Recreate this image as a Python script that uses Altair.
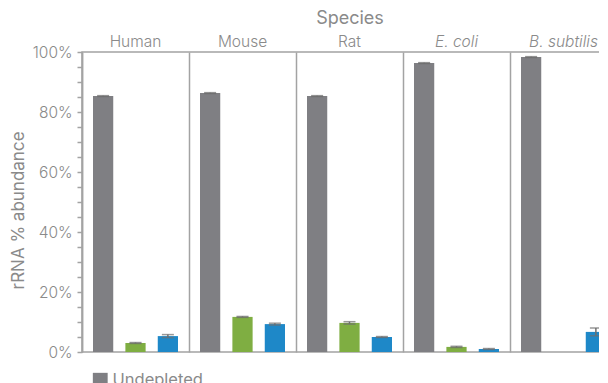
import altair as alt
import pandas as pd

species = ["Human", "Mouse", "Rat", "E. coli", "B. subtilis"]
conditions = ["Undepleted", "Pan-species depletion", "Species-specific depletion"]
colors = ["#7f7f83", "#7fae42", "#1e88c8"]

undepleted = [85.3, 86.3, 85.3, 96.3, 98.3]
undepleted_err = [0.15, 0.15, 0.15, 0.15, 0.15]
pan = [3.0, 11.7, 9.7, 1.7, 0.0]
pan_err = [0.15, 0.15, 0.4, 0.2, 0.0]
specific = [5.3, 9.3, 5.0, 1.0, 6.7]
specific_err = [0.5, 0.3, 0.15, 0.15, 1.3]

rows = []
for vals, errs, cond in [(undepleted, undepleted_err, conditions[0]),
                         (pan, pan_err, conditions[1]),
                         (specific, specific_err, conditions[2])]:
    for s, v, e in zip(species, vals, errs):
        rows.append({"species": s, "condition": cond, "value": v, "err": e,
                     "lo": v - e, "hi": v + e})
df = pd.DataFrame(rows)
df_err = df[df["value"] > 0]

FONT = "Inter"
TXT = "#8a8a8a"
LINE = "#a3a3a3"

x_enc = alt.X(
    "species:N", sort=species,
    scale=alt.Scale(paddingInner=0, paddingOuter=0),
    axis=alt.Axis(orient="top", title="Species", ticks=False, domain=False,
                  grid=True, bandPosition=0, gridColor=LINE, gridWidth=1.5,
                  labelAngle=0, labelPadding=3, labelFontSize=15.5,
                  titleFontSize=18, titlePadding=7,
                  labelFontStyle={"expr": "(datum.label == 'E. coli' || datum.label == 'B. subtilis') ? 'italic' : 'normal'"}),
)
xo_enc = alt.XOffset("condition:N", sort=conditions,
                     scale=alt.Scale(paddingInner=0.375, paddingOuter=0.34))

y_axis = alt.Axis(values=list(range(0, 101, 5)),
                  labelExpr="datum.value % 20 === 0 ? datum.value + '%' : ''",
                  grid=False, tickSize=5, labelPadding=5, labelFontSize=15.5,
                  titleFontSize=17, titlePadding=5, titleY=158,
                  domainColor=LINE, domainWidth=1.5, tickColor=LINE,
                  tickWidth=1.5)
y_scale = alt.Scale(domain=[0, 100], nice=False)
YT = "rRNA % abundance"

bars = alt.Chart(df).mark_bar().encode(
    x=x_enc, xOffset=xo_enc,
    y=alt.Y("value:Q", scale=y_scale, axis=y_axis, title=YT),
    color=alt.Color("condition:N", sort=conditions,
                    scale=alt.Scale(domain=conditions, range=colors),
                    legend=alt.Legend(orient="none", legendX=10, legendY=320,
                                      direction="vertical", title=None,
                                      symbolType="square", symbolSize=220,
                                      symbolStrokeWidth=0, symbolOpacity=1,
                                      labelFontSize=16.5, labelColor=TXT,
                                      labelFont=FONT, rowPadding=8)),
)

rules = alt.Chart(df_err).mark_rule(color="#6e6e6e", strokeWidth=1.5).encode(
    x=x_enc, xOffset=xo_enc,
    y=alt.Y("lo:Q", scale=y_scale, axis=y_axis, title=YT), y2="hi:Q",
)
caps_lo = alt.Chart(df_err).mark_tick(color="#6e6e6e", thickness=1.5, size=12).encode(
    x=x_enc, xOffset=xo_enc,
    y=alt.Y("lo:Q", scale=y_scale, axis=y_axis, title=YT),
)
caps_hi = alt.Chart(df_err).mark_tick(color="#6e6e6e", thickness=1.5, size=12).encode(
    x=x_enc, xOffset=xo_enc,
    y=alt.Y("hi:Q", scale=y_scale, axis=y_axis, title=YT),
)

chart = alt.layer(bars, rules, caps_lo, caps_hi).properties(
    width=535, height=300,
    autosize=alt.AutoSizeParams(type="none"),
    padding={"left": 74, "top": 44, "right": -18, "bottom": 60},
).configure_view(
    stroke=LINE, strokeWidth=1.5
).configure_axis(
    labelFont=FONT, titleFont=FONT, labelColor=TXT, titleColor=TXT,
    titleFontWeight="normal", labelFontWeight=300,
).configure_text(font=FONT)

chart.save("out.html", embed_options={"renderer": "svg", "actions": False})
